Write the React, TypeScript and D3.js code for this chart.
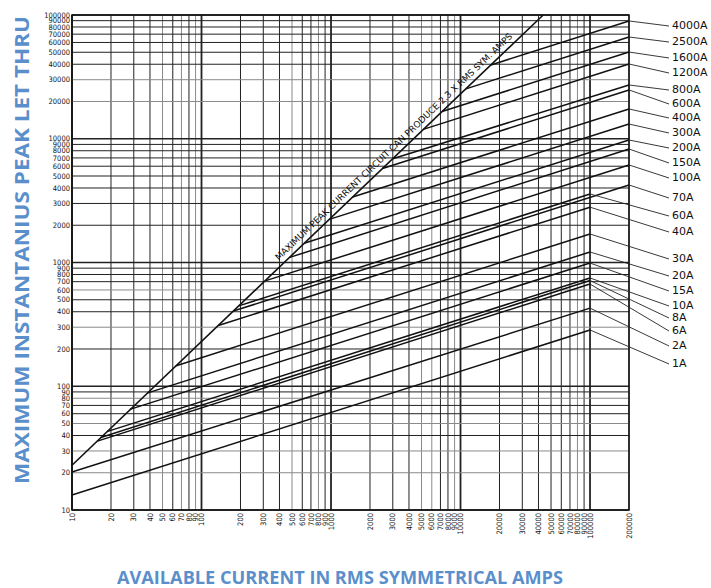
import React from 'react'
import * as d3 from 'd3'

// tick values on both log axes
const xTicks = [
  10, 20, 30, 40, 50, 60, 70, 80, 90, 100,
  200, 300, 400, 500, 600, 700, 800, 900, 1000,
  2000, 3000, 4000, 5000, 6000, 7000, 8000, 9000, 10000,
  20000, 30000, 40000, 50000, 60000, 70000, 80000, 90000, 100000,
  200000,
]
const yTicks = [
  10, 20, 30, 40, 50, 60, 70, 80, 90, 100,
  200, 300, 400, 500, 600, 700, 800, 900, 1000,
  2000, 3000, 4000, 5000, 6000, 7000, 8000, 9000, 10000,
  20000, 30000, 40000, 50000, 60000, 70000, 80000, 90000, 100000,
]
// grid lines printed lighter on the sheet
const xGray = [50, 70, 90, 500, 800, 5000, 6000, 9000, 80000]
const yGray = [20, 30, 50, 80, 300, 600, 20000, 30000]

// fuse ratings and their let-thru curves (start on max-peak line, end at right)
const fuseRatings = ['4000A', '2500A', '1600A', '1200A', '800A', '600A', '400A', '300A', '200A', '150A', '100A', '70A',
  '60A', '40A', '30A', '20A', '15A', '10A', '8A', '6A', '2A', '1A']
const startCurrent = [17200, 11000, 7200, 5150, 3000, 2500, 1470, 970, 620, 480, 310, 176,
  194, 135, 63, 38, 28, 18.6, 16.7, 15.7, 10, 10]
const startPeak = [39500, 25300, 16600, 11900, 6900, 5750, 3380, 2230, 1430, 1100, 710, 405,
  446, 310, 146, 88, 65, 43, 38.5, 36, 20.3, 13.2]
const endCurrent = [200000, 200000, 200000, 200000, 200000, 200000, 200000, 200000, 200000, 200000, 200000, 200000,
  100000, 100000, 100000, 100000, 100000, 100000, 100000, 100000, 100000, 100000]
const endPeak = [89500, 66400, 50200, 40200, 27200, 24800, 17400, 13150, 9770, 8260, 6140, 4230,
  3580, 2800, 1700, 1216, 990, 750, 715, 670, 428, 285]

// maximum peak current = 2.3 x RMS
const maxLineCurrent = [10, 43478]
const maxLinePeak = [23, 100000]
const maxLabelFrom = 420
const maxLabelTo = 27000

// label layout on the right (pixel rows)
const labelRows = [25, 41, 57, 72, 89, 103, 117, 132, 147, 162, 177, 197,
  215, 231, 258, 275, 290, 305, 317, 330, 345, 363]

const BLUE = '#5b8fcb'

export default function App() {
  const x = d3.scaleLog().domain([10, 200000]).range([72, 629])
  const y = d3.scaleLog().domain([10, 100000]).range([510, 15])
  const line = d3.line<[number, number]>().x(d => x(d[0])).y(d => y(d[1]))

  const isDecade = (v: number) => Math.abs(Math.log10(v) - Math.round(Math.log10(v))) < 1e-9

  const mx0 = x(maxLabelFrom), my0 = y(maxLabelFrom * 2.3)
  const mx1 = x(maxLabelTo), my1 = y(maxLabelTo * 2.3)
  const ang = (Math.atan2(my1 - my0, mx1 - mx0) * 180) / Math.PI
  const len = Math.hypot(mx1 - mx0, my1 - my0)

  return (
    <svg width={711} height={588} style={{ position: 'absolute', left: 0, top: 0, background: '#fff' }}>
      <rect width={711} height={588} fill="#fff" />
      {/* grid */}
      <g>
        {xTicks.map(v => (
          <line key={'gx' + v} x1={x(v)} x2={x(v)} y1={y(10)} y2={y(100000)}
            stroke={xGray.includes(v) ? '#8a8a8a' : '#222'}
            strokeWidth={isDecade(v) ? 1.8 : 1} />
        ))}
        {yTicks.map(v => (
          <line key={'gy' + v} x1={x(10)} x2={x(200000)} y1={y(v)} y2={y(v)}
            stroke={yGray.includes(v) ? '#8a8a8a' : '#222'}
            strokeWidth={isDecade(v) ? 1.5 : 1} />
        ))}
        <rect x={x(10)} y={y(100000)} width={x(200000) - x(10)} height={y(10) - y(100000)}
          fill="none" stroke="#111" strokeWidth={1.5} />
      </g>

      {/* y tick labels */}
      <g fontFamily="'DejaVu Sans Condensed', 'Liberation Sans Narrow', sans-serif" fontSize={7.5} fill="#111">
        {yTicks.map(v => (
          <text key={'ty' + v} x={70} y={y(v)} dy="0.35em" textAnchor="end">{v}</text>
        ))}
      </g>
      {/* x tick labels */}
      <g fontFamily="'DejaVu Sans Condensed', 'Liberation Sans Narrow', sans-serif" fontSize={7.5} fill="#111">
        {xTicks.map(v => (
          <text key={'tx' + v} transform={`translate(${x(v)},513) rotate(-90)`} dy="0.35em" textAnchor="end">{v}</text>
        ))}
      </g>

      {/* max peak line */}
      <path d={line(maxLineCurrent.map((c, i) => [c, maxLinePeak[i]] as [number, number]))!}
        fill="none" stroke="#111" strokeWidth={1.6} />
      <text transform={`translate(${mx0},${my0}) rotate(${ang})`} dy={-5}
        fontFamily="'DejaVu Sans', sans-serif" fontSize={9} fill="#111"
        textLength={len} lengthAdjust="spacingAndGlyphs">
        MAXIMUM PEAK CURRENT CIRCUIT CAN PRODUCE 2.3 X RMS SYM. AMPS
      </text>

      {/* fuse let-thru lines */}
      <g fill="none" stroke="#111" strokeWidth={1.5}>
        {fuseRatings.map((f, i) => (
          <path key={'f' + f}
            d={line([[startCurrent[i], startPeak[i]], [endCurrent[i], endPeak[i]]])!} />
        ))}
      </g>

      {/* leaders and labels */}
      <g>
        {fuseRatings.map((f, i) => (
          <g key={'l' + f}>
            <line x1={x(endCurrent[i])} y1={y(endPeak[i])} x2={669} y2={labelRows[i] + 1}
              stroke="#222" strokeWidth={0.9} />
            <text x={672} y={labelRows[i]} dy="0.38em" fontFamily="'DejaVu Sans', sans-serif"
              fontSize={11} fill="#111">{f}</text>
          </g>
        ))}
      </g>

      {/* axis titles */}
      <text transform={`translate(29,250) rotate(-90)`} textAnchor="middle"
        fontFamily="'Open Sans', sans-serif" fontWeight={700} fontSize={19} fill={BLUE}
        textLength={468} lengthAdjust="spacingAndGlyphs">
        MAXIMUM INSTANTANIUS PEAK LET THRU
      </text>
      <text x={340} y={584} textAnchor="middle"
        fontFamily="'Open Sans', sans-serif" fontWeight={700} fontSize={18} fill={BLUE}
        textLength={446} lengthAdjust="spacingAndGlyphs">
        AVAILABLE CURRENT IN RMS SYMMETRICAL AMPS
      </text>
    </svg>
  )
}
